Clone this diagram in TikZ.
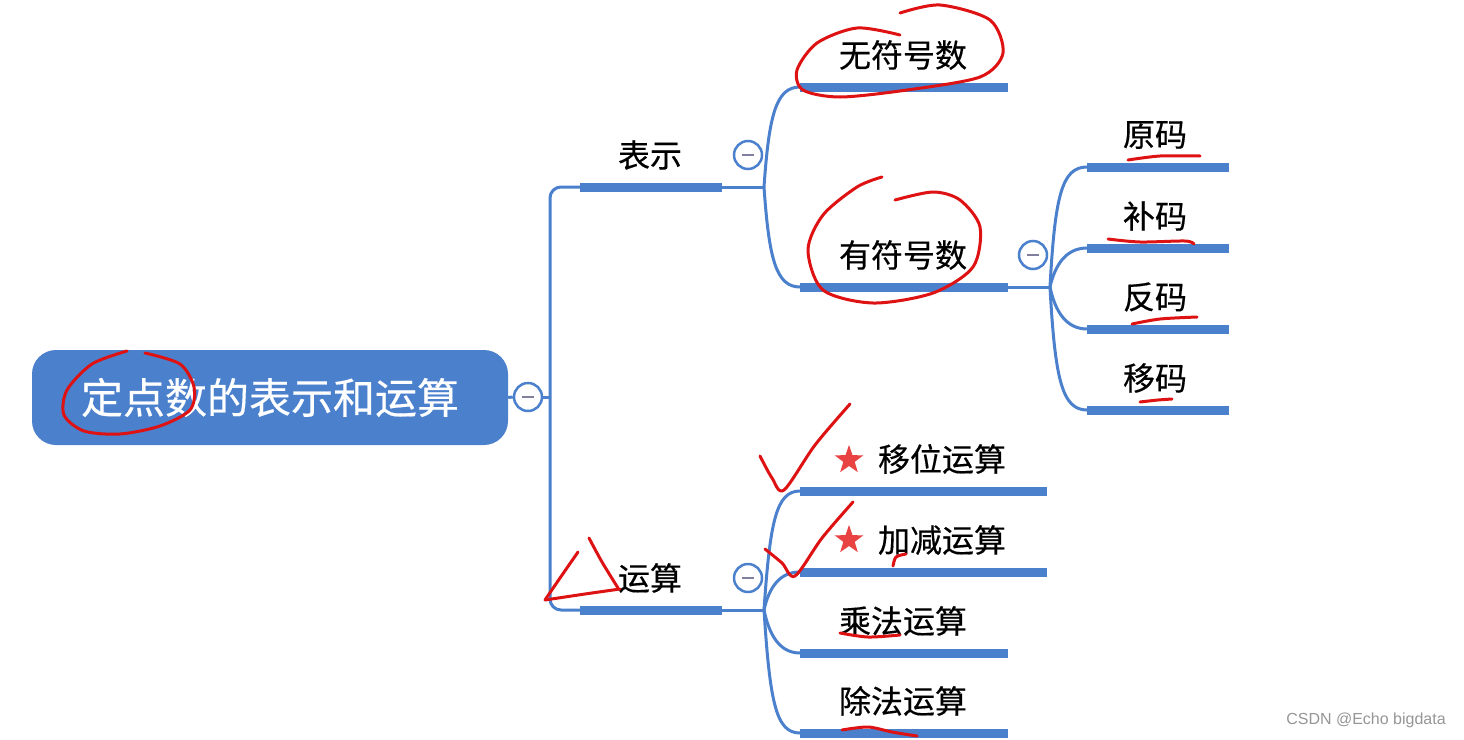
\documentclass[tikz,border=0pt]{standalone}
\usepackage{fontspec}
\setmainfont{Liberation Sans}
\newfontfamily\cjk[FakeBold=0.4]{Noto Sans CJK SC}
\usetikzlibrary{shapes.geometric}
\definecolor{mmblue}{RGB}{74,128,204}
\definecolor{hand}{RGB}{222,18,18}
\definecolor{starred}{RGB}{232,66,66}
\definecolor{minusgray}{RGB}{128,128,158}
\definecolor{wmgray}{RGB}{150,150,150}
\begin{document}
\begin{tikzpicture}[x=1pt,y=-1pt,
  bar/.style={mmblue, line width=9pt},
  link/.style={mmblue, line width=3pt},
  lbl/.style={font=\cjk\fontsize{32}{38}\selectfont, inner sep=0pt},
  rootbox/.style={rounded corners=24pt, fill=mmblue, text=white, minimum width=476pt, minimum height=95pt, inner sep=0pt, font=\cjk\fontsize{42}{50}\selectfont},
  toggle/.style={circle, draw=mmblue, line width=2.5pt, fill=white, minimum size=28pt, inner sep=0pt,
    path picture={\draw[minusgray, line width=2.5pt] ([xshift=-6pt]path picture bounding box.center) -- ([xshift=6pt]path picture bounding box.center);}},
  ink/.style={hand, line width=3pt, line cap=round, line join=round},
  starmark/.style={star, star points=5, star point ratio=2.5, fill=starred, minimum size=30pt, inner sep=0pt}
]
\useasboundingbox[fill=white] (0,0) rectangle (1464,739);

% root
\node[rootbox] (root) at (270,397.5) {定点数的表示和运算};
\node[toggle] (t0) at (528,397) {};
\coordinate (trunk) at (550,397);
\draw[link] (root.east) -- (t0.west);
\draw[link] (t0.east) -- (trunk);

% level 1 bars
\coordinate (b1s) at (580,187); \coordinate (b1e) at (722,187);
\coordinate (b2s) at (580,610); \coordinate (b2e) at (722,610);
\draw[link, rounded corners=11pt] (trunk) |- (b1s);
\draw[link, rounded corners=11pt] (trunk) |- (b2s);
\draw[bar] (b1s) -- (b1e);
\draw[bar] (b2s) -- (b2e);
\node[lbl] (biaoshi) at (650,155) {表示};
\node[lbl] (yunsuan) at (650,578) {运算};
\node[toggle] (t1) at (748,155) {};
\node[toggle] (t2) at (748,578) {};

% 表示 branch
\coordinate (j1) at (764,187);
\draw[link] (b1e) -- (j1);
\coordinate (u1s) at (800,87); \coordinate (u1e) at (1008,87);
\coordinate (u2s) at (800,287); \coordinate (u2e) at (1008,287);
\draw[link] (j1) .. controls (769,115) and (776,87) .. (u1s);
\draw[link] (j1) .. controls (769,259) and (776,287) .. (u2s);
\draw[bar] (u1s) -- (u1e);
\draw[bar] (u2s) -- (u2e);
\node[lbl] (wufuhao) at (903,55) {无符号数};
\node[lbl] (youfuhao) at (903,255) {有符号数};
\node[toggle] (t3) at (1033,255) {};

% 有符号数 branch
\coordinate (j3) at (1050,287);
\draw[link] (u2e) -- (j3);
\coordinate (c1s) at (1087,167); \coordinate (c1e) at (1229,167);
\coordinate (c2s) at (1087,248); \coordinate (c2e) at (1229,248);
\coordinate (c3s) at (1087,329); \coordinate (c3e) at (1229,329);
\coordinate (c4s) at (1087,410); \coordinate (c4e) at (1229,410);
\draw[link] (j3) .. controls (1055,195) and (1062,167) .. (c1s);
\draw[link] (j3) .. controls (1055,265) and (1066,248) .. (c2s);
\draw[link] (j3) .. controls (1055,311) and (1066,329) .. (c3s);
\draw[link] (j3) .. controls (1055,379) and (1062,410) .. (c4s);
\foreach \i in {1,2,3,4} {\draw[bar] (c\i s) -- (c\i e);}
\node[lbl] (yuanma) at (1155,135) {原码};
\node[lbl] (buma) at (1155,216) {补码};
\node[lbl] (fanma) at (1155,297) {反码};
\node[lbl] (yima) at (1155,378) {移码};

% 运算 branch
\coordinate (j2) at (764,610);
\draw[link] (b2e) -- (j2);
\coordinate (o1s) at (800,491); \coordinate (o1e) at (1047,491);
\coordinate (o2s) at (800,572); \coordinate (o2e) at (1047,572);
\coordinate (o3s) at (800,653); \coordinate (o3e) at (1008,653);
\coordinate (o4s) at (800,733); \coordinate (o4e) at (1008,733);
\draw[link] (j2) .. controls (770,522) and (776,491) .. (o1s);
\draw[link] (j2) .. controls (769,588) and (779,572) .. (o2s);
\draw[link] (j2) .. controls (769,634) and (779,653) .. (o3s);
\draw[link] (j2) .. controls (770,703) and (776,733) .. (o4s);
\foreach \i in {1,2,3,4} {\draw[bar] (o\i s) -- (o\i e);}
\node[starmark] (s1) at (849,460) {};
\node[starmark] (s2) at (849,540) {};
\node[lbl] (yiwei) at (942,459) {移位运算};
\node[lbl] (jiajian) at (942,540) {加减运算};
\node[lbl] (chengfa) at (903,621) {乘法运算};
\node[lbl] (chufa) at (903,701) {除法运算};

% watermark
\node[text=wmgray, font=\fontsize{16}{19}\selectfont, inner sep=0pt] (wm) at (1366,720) {CSDN @Echo bigdata};

% handwritten red marks
\draw[ink] plot[smooth] coordinates {(127,351) (92,364) (67,390) (64,415) (84,431) (120,434) (160,426) (190,410) (194,387) (180,364) (145,353)};
\draw[ink] plot[smooth] coordinates {(900,35) (857,28) (817,43) (797,70) (803,90) (840,97) (907,90) (980,77) (1003,53) (990,20) (940,5) (900,13)};
\draw[ink] plot[smooth] coordinates {(882,177) (857,187) (823,215) (808,250) (823,290) (873,303) (933,293) (973,267) (980,227) (960,200) (933,192) (895,200)};
\draw[ink] plot[smooth] coordinates {(1128,160) (1160,156) (1200,156)};
\draw[ink] plot[smooth] coordinates {(1108,239) (1140,242) (1185,241) (1194,244)};
\draw[ink] plot[smooth] coordinates {(1132,324) (1160,319) (1197,317)};
\draw[ink] plot[smooth] coordinates {(1140,402) (1158,400) (1172,399)};
\draw[ink] plot[smooth] coordinates {(760,456) (772,478) (784,490) (815,445) (850,404)};
\draw[ink] plot[smooth] coordinates {(765,549) (782,563) (795,576) (822,538) (853,502)};
\draw[ink] plot[smooth] coordinates {(578,552) (560,578) (545,600)};
\draw[ink] plot[smooth] coordinates {(545,600) (585,594) (620,589)};
\draw[ink] plot[smooth] coordinates {(589,538) (602,562) (618,588)};
\draw[ink] plot[smooth] coordinates {(893,566) (896,557) (906,554)};
\draw[ink] plot[smooth] coordinates {(840,633) (868,637) (900,635)};
\draw[ink] plot[smooth] coordinates {(842,730) (868,727) (892,732) (917,736)};
\end{tikzpicture}
\end{document}
